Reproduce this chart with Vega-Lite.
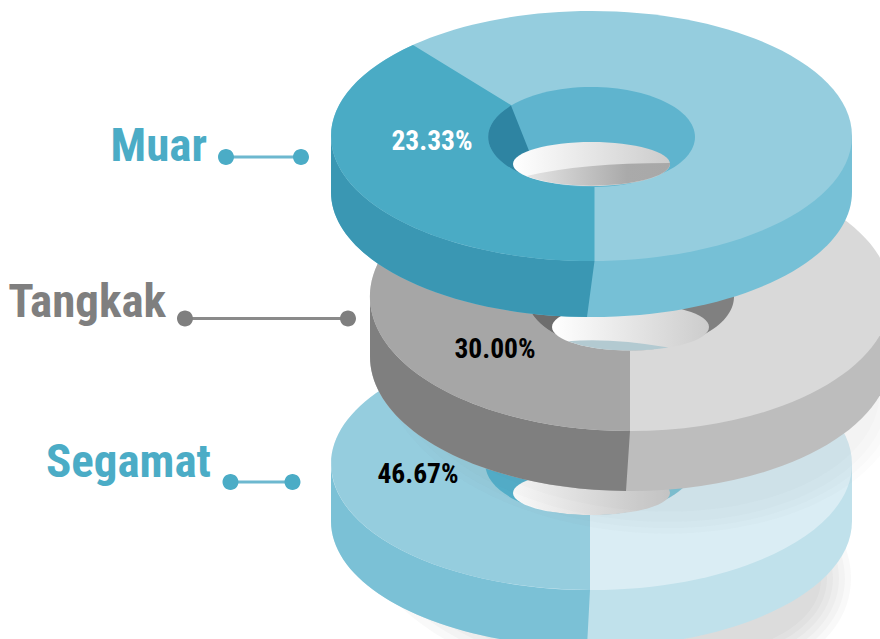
{"$schema":"https://vega.github.io/schema/vega-lite/v6.json","width":880,"height":639,"padding":0,"autosize":{"type":"none"},"background":"white","config":{"view":{"stroke":null}},
"datasets":{"rings":[{"district":"Muar","share":0.2333},{"district":"Tangkak","share":0.30},{"district":"Segamat","share":0.4667}],
"pieces":[
{"district":"Segamat","share":0.4667,"part":"shadow","piece":"Segamat shadow 1"},
{"district":"Segamat","share":0.4667,"part":"shadow","piece":"Segamat shadow 2"},
{"district":"Segamat","share":0.4667,"part":"shadow","piece":"Segamat shadow 3"},
{"district":"Segamat","share":0.4667,"part":"shadow","piece":"Segamat shadow 4"},
{"district":"Segamat","share":0.4667,"part":"shadow","piece":"Segamat shadow 5"},
{"district":"Segamat","share":0.4667,"part":"shadow","piece":"Segamat shadow 6"},
{"district":"Segamat","share":0.4667,"part":"wall major","piece":"Segamat wall right"},
{"district":"Segamat","share":0.4667,"part":"wall slice","piece":"Segamat wall left"},
{"district":"Segamat","share":0.4667,"part":"top major","piece":"Segamat top right"},
{"district":"Segamat","share":0.4667,"part":"top slice","piece":"Segamat top left"},
{"district":"Segamat","share":0.4667,"part":"hole major","piece":"Segamat hole right"},
{"district":"Segamat","share":0.4667,"part":"hole slice","piece":"Segamat hole left"},
{"district":"Segamat","share":0.4667,"part":"opening","piece":"Segamat opening"},
{"district":"Tangkak","share":0.30,"part":"shadow","piece":"Tangkak shadow 1"},
{"district":"Tangkak","share":0.30,"part":"shadow","piece":"Tangkak shadow 2"},
{"district":"Tangkak","share":0.30,"part":"shadow","piece":"Tangkak shadow 3"},
{"district":"Tangkak","share":0.30,"part":"shadow","piece":"Tangkak shadow 4"},
{"district":"Tangkak","share":0.30,"part":"wall major","piece":"Tangkak wall major"},
{"district":"Tangkak","share":0.30,"part":"wall slice","piece":"Tangkak wall slice"},
{"district":"Tangkak","share":0.30,"part":"top major","piece":"Tangkak top major"},
{"district":"Tangkak","share":0.30,"part":"top slice","piece":"Tangkak top slice"},
{"district":"Tangkak","share":0.30,"part":"hole major","piece":"Tangkak hole major"},
{"district":"Tangkak","share":0.30,"part":"hole slice","piece":"Tangkak hole slice"},
{"district":"Tangkak","share":0.30,"part":"opening","piece":"Tangkak opening"},
{"district":"Tangkak","share":0.30,"part":"reflection","piece":"Tangkak reflection"},
{"district":"Muar","share":0.2333,"part":"wall major","piece":"Muar wall major"},
{"district":"Muar","share":0.2333,"part":"wall slice","piece":"Muar wall slice"},
{"district":"Muar","share":0.2333,"part":"top major","piece":"Muar top major"},
{"district":"Muar","share":0.2333,"part":"top slice","piece":"Muar top slice"},
{"district":"Muar","share":0.2333,"part":"hole major","piece":"Muar hole major"},
{"district":"Muar","share":0.2333,"part":"hole slice","piece":"Muar hole slice"},
{"district":"Muar","share":0.2333,"part":"opening","piece":"Muar opening"},
{"district":"Muar","share":0.2333,"part":"reflection","piece":"Muar reflection"}
]},
"resolve":{"scale":{"x":"independent","y":"independent","fill":"independent","shape":"independent"}},
"layer":[
{"data":{"name":"pieces"},
"mark":{"type":"point","filled":true,"opacity":1,"strokeWidth":0},
"encoding":{
"x":{"field":"share","type":"quantitative","axis":null,"scale":{"domain":[0.2333,0.30,0.4667],"range":[591.5,630.5,591.5],"zero":false,"nice":false}},
"y":{"field":"share","type":"quantitative","axis":null,"scale":{"domain":[0.2333,0.30,0.4667],"range":[136,296.5,464],"zero":false,"nice":false}},
"size":{"value":4},
"shape":{"field":"piece","type":"nominal","legend":null,"scale":{"domain":[
"Segamat shadow 1","Segamat shadow 2","Segamat shadow 3","Segamat shadow 4","Segamat shadow 5","Segamat shadow 6","Segamat wall right","Segamat wall left","Segamat top right","Segamat top left","Segamat hole right","Segamat hole left","Segamat opening",
"Tangkak shadow 1","Tangkak shadow 2","Tangkak shadow 3","Tangkak shadow 4","Tangkak wall major","Tangkak wall slice","Tangkak top major","Tangkak top slice","Tangkak hole major","Tangkak hole slice","Tangkak opening","Tangkak reflection",
"Muar wall major","Muar wall slice","Muar top major","Muar top slice","Muar hole major","Muar hole slice","Muar opening","Muar reflection"],
"range":[
"M-234.2,41.6A250,140 10 1 1 258.2,128.4A250,140 10 1 1 -234.2,41.6Z",
"M-228.3,42.5A244,133 10 1 1 252.3,127.5A244,133 10 1 1 -228.3,42.5Z",
"M-222.4,43.6A238,126 10 1 1 246.4,126.4A238,126 10 1 1 -222.4,43.6Z",
"M-216.5,44.6A232,119 10 1 1 240.5,125.4A232,119 10 1 1 -216.5,44.6Z",
"M-210.6,45.7A226,112 10 1 1 234.6,124.3A226,112 10 1 1 -210.6,45.7Z",
"M-204.7,46.7A220,105 10 1 1 228.7,123.3A220,105 10 1 1 -204.7,46.7Z",
"M-260.5,0V57A260.5,126 0 0 0 260.5,57V0Z",
"M-260.5,0V57A260.5,126 0 0 0 -4.5,183L-1.5,126Z",
"M-260.5,0A260.5,126 0 1 1 260.5,0A260.5,126 0 1 1 -260.5,0Z",
"M-1.5,126A260.5,126 0 0 1 -10,-125.9L-4,-51L-1.5,51Z",
"M-103.5,0A103.5,51 0 1 1 103.5,0A103.5,51 0 1 1 -103.5,0Z",
"M-4,-51A103.5,51 0 0 0 -1.5,51Z",
"M-78.5,29A78.5,22 0 1 1 78.5,29A78.5,22 0 1 1 -78.5,29Z",
"M-249,57.2A262,155 5 1 1 273,102.8A262,155 5 1 1 -249,57.2Z",
"M-241,57.9A254,148 5 1 1 265,102.1A254,148 5 1 1 -241,57.9Z",
"M-233,58.6A246,141 5 1 1 257,101.4A246,141 5 1 1 -233,58.6Z",
"M-225.1,59.3A238,134 5 1 1 249.1,100.7A238,134 5 1 1 -225.1,59.3Z",
"M-260.5,0V60A260.5,134.5 0 0 0 260.5,60V0Z",
"M-260.5,0V60A260.5,134.5 0 0 0 -4.5,194.5L-0.5,134.5Z",
"M-260.5,0A260.5,134.5 0 1 1 260.5,0A260.5,134.5 0 1 1 -260.5,0Z",
"M-0.5,134.5A260.5,134.5 0 0 1 -150,-110L-60,-44L-0.5,54Z",
"M-103.5,0A103.5,54 0 1 1 103.5,0A103.5,54 0 1 1 -103.5,0Z",
"M-60,-44A103.5,54 0 0 0 -40,49.8L-62.5,16.3Z",
"M-78.5,30.5A78.5,23.5 0 1 1 78.5,30.5A78.5,23.5 0 1 1 -78.5,30.5Z",
"M-62.5,44.7Q-20,41 38,51A78.5,23.5 0 0 1 -62.5,44.7Z",
"M-260.5,0V56A260.5,125 0 0 0 260.5,56V0Z",
"M-260.5,0V56A260.5,125 0 0 0 -4.5,181L3,125Z",
"M-260.5,0A260.5,125 0 1 1 260.5,0A260.5,125 0 1 1 -260.5,0Z",
"M3,125A260.5,125 0 0 1 -178.5,-91L-80.5,-31L3,51Z",
"M-103.5,1A103.5,50 0 1 1 103.5,1A103.5,50 0 1 1 -103.5,1Z",
"M-80.5,-30.4A103.5,50 0 0 0 -40,47L-62.5,14.7Z",
"M-78.5,28A78.5,22 0 1 1 78.5,28A78.5,22 0 1 1 -78.5,28Z",
"M-65,40Q-10,27 78.5,27A78.5,22 0 0 1 -65,40Z"
]}},
"fill":{"condition":[
{"test":"datum.part==='opening'","value":{"gradient":"linear","x1":0,"y1":0,"x2":1,"y2":0,"stops":[{"offset":0,"color":"#ffffff"},{"offset":1,"color":"#cccccc"}]}},
{"test":"datum.piece==='Muar reflection'","value":{"gradient":"linear","x1":0,"y1":0,"x2":1,"y2":0,"stops":[{"offset":0,"color":"#e6e6e6"},{"offset":0.7,"color":"#aaaaaa"},{"offset":1,"color":"#a8a8a8"}]}}
],
"field":"piece","type":"nominal","legend":null,"scale":{"domain":[
"Segamat shadow 1","Segamat shadow 2","Segamat shadow 3","Segamat shadow 4","Segamat shadow 5","Segamat shadow 6",
"Segamat wall right","Segamat wall left","Segamat top right","Segamat top left","Segamat hole right","Segamat hole left",
"Tangkak shadow 1","Tangkak shadow 2","Tangkak shadow 3","Tangkak shadow 4",
"Tangkak wall major","Tangkak wall slice","Tangkak top major","Tangkak top slice","Tangkak hole major","Tangkak hole slice","Tangkak reflection",
"Muar wall major","Muar wall slice","Muar top major","Muar top slice","Muar hole major","Muar hole slice"],
"range":["rgba(100,100,100,0.04)","rgba(100,100,100,0.04)","rgba(100,100,100,0.04)","rgba(100,100,100,0.04)","rgba(100,100,100,0.04)","rgba(100,100,100,0.04)",
"#c0e1eb","#7bc1d6","#daedf4","#95cdde","#7fc4d9","#52b1cc",
"rgba(100,100,100,0.02)","rgba(100,100,100,0.02)","rgba(100,100,100,0.02)","rgba(100,100,100,0.02)",
"#bdbdbd","#7f7f7f","#d9d9d9","#a6a6a6","#808080","#6d6d6d","#b3cad1",
"#76c0d6","#3a97b3","#95cdde","#4aabc5","#5fb4ce","#2e84a2"]}}
}},
{"data":{"name":"rings"},
"mark":{"type":"point","filled":true,"opacity":1,"strokeWidth":0},
"encoding":{
"x":{"field":"share","type":"quantitative","axis":null,"scale":{"domain":[0.2333,0.30,0.4667],"range":[226,185,230.5],"zero":false,"nice":false}},
"y":{"field":"share","type":"quantitative","axis":null,"scale":{"domain":[0.2333,0.30,0.4667],"range":[157,318.5,482],"zero":false,"nice":false}},
"size":{"value":4},
"shape":{"field":"district","type":"nominal","legend":null,"scale":{"domain":["Muar","Tangkak","Segamat"],"range":["M0,-1.5H75V1.5H0Z","M0,-1.5H163V1.5H0Z","M0,-1.5H62V1.5H0Z"]}},
"fill":{"field":"district","type":"nominal","legend":null,"scale":{"domain":["Muar","Tangkak","Segamat"],"range":["#6db8cf","#8a8a8a","#6db8cf"]}}
}},
{"data":{"name":"rings"},
"mark":{"type":"point","filled":true,"opacity":1,"strokeWidth":0},
"encoding":{
"x":{"field":"share","type":"quantitative","axis":null,"scale":{"domain":[0.2333,0.30,0.4667],"range":[226,185,230.5],"zero":false,"nice":false}},
"y":{"field":"share","type":"quantitative","axis":null,"scale":{"domain":[0.2333,0.30,0.4667],"range":[157,318.5,482],"zero":false,"nice":false}},
"size":{"value":4},
"shape":{"field":"district","type":"nominal","legend":null,"scale":{"domain":["Muar","Tangkak","Segamat"],"range":[
"M-8,0A8,8 0 1 1 8,0A8,8 0 1 1 -8,0ZM67,0A8,8 0 1 1 83,0A8,8 0 1 1 67,0Z",
"M-8,0A8,8 0 1 1 8,0A8,8 0 1 1 -8,0ZM155,0A8,8 0 1 1 171,0A8,8 0 1 1 155,0Z",
"M-8,0A8,8 0 1 1 8,0A8,8 0 1 1 -8,0ZM54,0A8,8 0 1 1 70,0A8,8 0 1 1 54,0Z"]}},
"fill":{"field":"district","type":"nominal","legend":null,"scale":{"domain":["Muar","Tangkak","Segamat"],"range":["#4bacc6","#7f7f7f","#4bacc6"]}}
}},
{"data":{"name":"rings"},
"mark":{"type":"text","font":"Roboto Condensed, Open Sans Condensed, DejaVu Sans Condensed, Arial Narrow, Roboto","fontWeight":"bold","fontSize":47,"align":"right","baseline":"alphabetic"},
"encoding":{
"x":{"field":"share","type":"quantitative","axis":null,"scale":{"domain":[0.2333,0.30,0.4667],"range":[207,166,211],"zero":false,"nice":false}},
"y":{"field":"share","type":"quantitative","axis":null,"scale":{"domain":[0.2333,0.30,0.4667],"range":[161,317,477],"zero":false,"nice":false}},
"text":{"field":"district","type":"nominal"},
"fill":{"field":"district","type":"nominal","legend":null,"scale":{"domain":["Muar","Tangkak","Segamat"],"range":["#4bacc6","#7f7f7f","#4bacc6"]}}
}},
{"data":{"name":"rings"},
"mark":{"type":"text","font":"Roboto Condensed, Open Sans Condensed, DejaVu Sans Condensed, Arial Narrow, Roboto","fontWeight":"bold","fontSize":27.5,"align":"center","baseline":"middle"},
"encoding":{
"x":{"field":"share","type":"quantitative","axis":null,"scale":{"domain":[0.2333,0.30,0.4667],"range":[432,495,418],"zero":false,"nice":false}},
"y":{"field":"share","type":"quantitative","axis":null,"scale":{"domain":[0.2333,0.30,0.4667],"range":[142,350,474.5],"zero":false,"nice":false}},
"text":{"field":"share","type":"quantitative","format":".2%"},
"fill":{"field":"district","type":"nominal","legend":null,"scale":{"domain":["Muar","Tangkak","Segamat"],"range":["#ffffff","#000000","#000000"]}}
}}
]}
